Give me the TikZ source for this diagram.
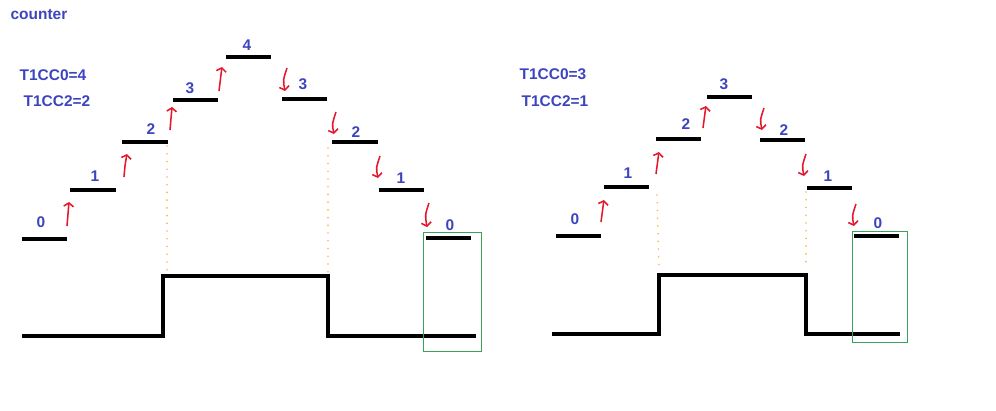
\documentclass[tikz,border=0pt]{standalone}
\usepackage{fontspec}
\setmainfont{Liberation Sans}
\usetikzlibrary{positioning}
\usetikzlibrary{arrows.meta}
\definecolor{lblblue}{RGB}{60,68,190}
\definecolor{arrred}{RGB}{228,24,44}
\definecolor{boxgreen}{RGB}{60,160,90}
\definecolor{dotorange}{RGB}{238,190,70}

\tikzset{
  lvl/.style={line width=2.2pt},
  wave/.style={line width=2.2pt},
  lbl/.style={text=lblblue,font=\bfseries\fontsize{11}{13}\selectfont,inner sep=0pt},
  uparr/.style={draw=arrred,line width=1.1pt,-{Straight Barb[length=2.5pt,width=7pt]}},
  dnarr/.style={draw=arrred,line width=1.1pt,-{Straight Barb[length=2.5pt,width=7pt]}},
  guide/.style={draw=dotorange,line width=1.3pt,line cap=round,dash pattern=on 0pt off 5.5pt},
  zerobox/.style={draw=boxgreen,line width=0.7pt}
}

\begin{document}
\begin{tikzpicture}[x=0.025cm,y=-0.025cm]
  \useasboundingbox (0,0) rectangle (996,410);

  \node[lbl] (cnt) at (39,15) {counter};

  % left: T1CC0=4, T1CC2=2
  \node[lbl] (LcA) at (53,75) {T1CC0=4};
  \node[lbl] (LcB) at (57,101) {T1CC2=2};

  \draw[lvl] (22,239) -- (67,239);
  \draw[lvl] (70,190) -- (116,190);
  \draw[lvl] (122,142) -- (168,142);
  \draw[lvl] (173,100) -- (218,100);
  \draw[lvl] (226,57) -- (271,57);
  \draw[lvl] (282,99) -- (327,99);
  \draw[lvl] (332,142) -- (378,142);
  \draw[lvl] (379,190) -- (424,190);
  \draw[lvl] (426,238) -- (471,238);

  \node[lbl] (L0) at (41,222) {0};
  \node[lbl] (L1) at (95,176) {1};
  \node[lbl] (L2) at (151,129) {2};
  \node[lbl] (L3) at (190,88) {3};
  \node[lbl] (L4) at (247,45) {4};
  \node[lbl] (L5) at (303,84) {3};
  \node[lbl] (L6) at (356,132) {2};
  \node[lbl] (L7) at (401,178) {1};
  \node[lbl] (L8) at (450,225) {0};

  \draw[uparr] (67,226) .. controls (68,214) .. (69,202);
  \draw[uparr] (124,177) .. controls (125,165) .. (127,154);
  \draw[uparr] (170,130) .. controls (171,119) .. (172,107);
  \draw[uparr] (219,91) .. controls (220,79) .. (222,67);
  \draw[dnarr] (287,68) .. controls (283,80) .. (285,91);
  \draw[dnarr] (336,112) .. controls (332,124) .. (334,134);
  \draw[dnarr] (380,156) .. controls (376,168) .. (378,178);
  \draw[dnarr] (429,203) .. controls (425,215) .. (427,227);

  \draw[guide] (167,146) -- (167,274);
  \draw[guide] (328,148) -- (328,273);

  \draw[wave] (22,336) -- (163,336) -- (163,276) -- (328,276) -- (328,336) -- (476,336);
  \draw[zerobox] (423,232) rectangle (481,351);

  % right: T1CC0=3, T1CC2=1
  \node[lbl] (RcA) at (553,74) {T1CC0=3};
  \node[lbl] (RcB) at (555,101) {T1CC2=1};

  \draw[lvl] (556,236) -- (601,236);
  \draw[lvl] (604,187) -- (649,187);
  \draw[lvl] (656,139) -- (701,139);
  \draw[lvl] (707,97) -- (752,97);
  \draw[lvl] (760,140) -- (805,140);
  \draw[lvl] (807,188) -- (852,188);
  \draw[lvl] (854,236) -- (899,236);

  \node[lbl] (R0) at (575,219) {0};
  \node[lbl] (R1) at (628,173) {1};
  \node[lbl] (R2) at (686,124) {2};
  \node[lbl] (R3) at (724,84) {3};
  \node[lbl] (R4) at (784,130) {2};
  \node[lbl] (R5) at (828,176) {1};
  \node[lbl] (R6) at (878,223) {0};

  \draw[uparr] (601,222) .. controls (602,211) .. (604,200);
  \draw[uparr] (656,174) .. controls (657,163) .. (659,152);
  \draw[uparr] (703,128) .. controls (704,117) .. (706,106);
  \draw[dnarr] (764,108) .. controls (760,120) .. (762,130);
  \draw[dnarr] (806,154) .. controls (802,166) .. (804,176);
  \draw[dnarr] (856,204) .. controls (852,216) .. (854,226);

  \draw[guide] (657,195) -- (659,271);
  \draw[guide] (806,192) -- (806,265);

  \draw[wave] (552,334) -- (659,334) -- (659,275) -- (806,275) -- (806,334) -- (900,334);
  \draw[zerobox] (852,231) rectangle (907,342);
\end{tikzpicture}
\end{document}
